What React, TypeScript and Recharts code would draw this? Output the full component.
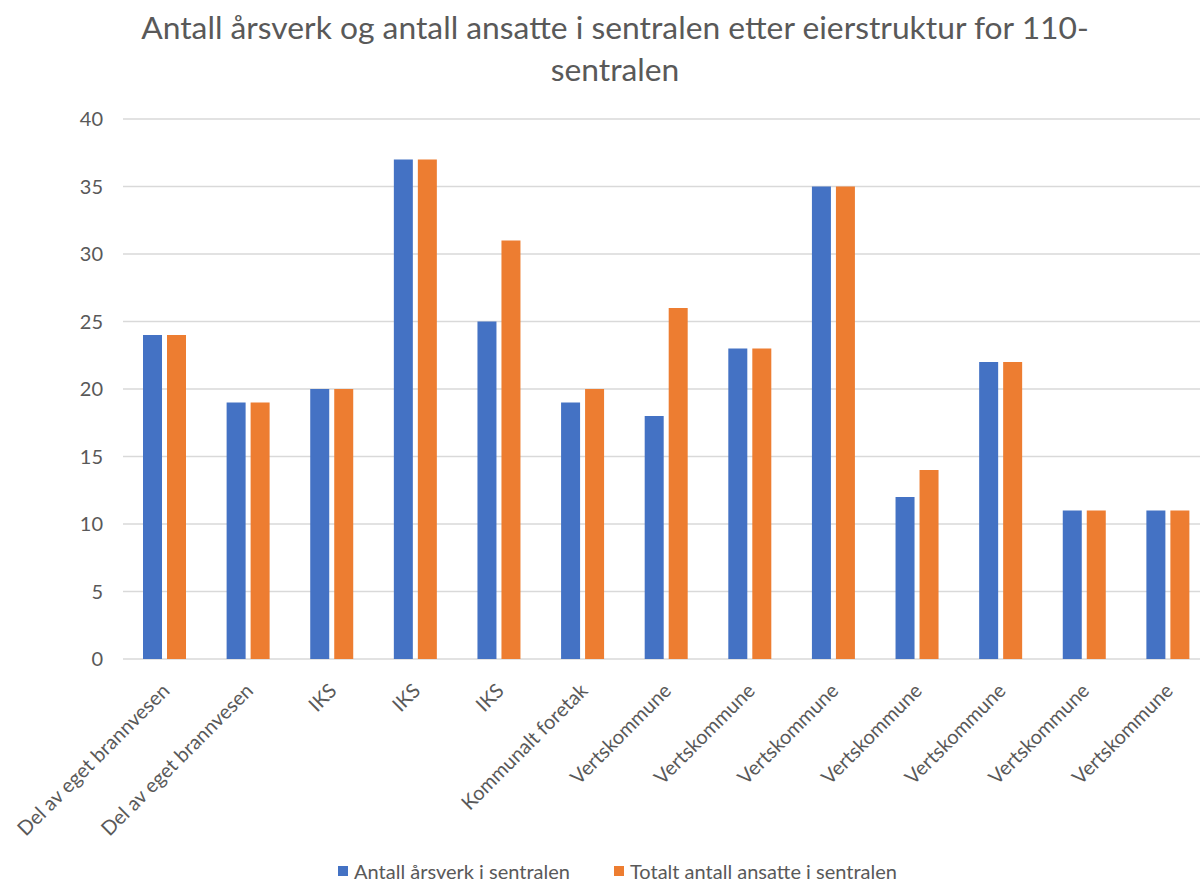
import { BarChart, Bar, XAxis, YAxis, CartesianGrid, Legend } from "recharts";

// Eierstruktur per sentral
const categories = [
    "Del av eget brannvesen",
    "Del av eget brannvesen",
    "IKS",
    "IKS",
    "IKS",
    "Kommunalt foretak",
    "Vertskommune",
    "Vertskommune",
    "Vertskommune",
    "Vertskommune",
    "Vertskommune",
    "Vertskommune",
    "Vertskommune",
];

const arsverk = [24, 19, 20, 37, 25, 19, 18, 23, 35, 12, 22, 11, 11];
const ansatte = [24, 19, 20, 37, 31, 20, 26, 23, 35, 14, 22, 11, 11];

const yTicks = [0, 5, 10, 15, 20, 25, 30, 35, 40];

const seriesNames = ["Antall årsverk i sentralen", "Totalt antall ansatte i sentralen"];

const data = categories.map((name, i) => ({
    id: i,
    name,
    arsverk: arsverk[i],
    ansatte: ansatte[i],
}));

const FONT = "Lato, 'Open Sans', sans-serif";
const TEXT = "#595959";

function RotatedTick(props: any) {
    const { x, y, payload } = props;
    return (
        <g transform={`translate(${x + 6},${y + 33})`}>
            <text
                x={0}
                y={0}
                textAnchor="end"
                transform="rotate(-45)"
                fill={TEXT}
                fontSize={20}
                fontFamily={FONT}
            >
                {categories[payload.index] ?? payload.value}
            </text>
        </g>
    );
}

function LegendContent() {
    const colors = ["#4472C4", "#ED7D31"];
    return (
        <div
            style={{
                display: "flex",
                justifyContent: "center",
                height: 26,
                lineHeight: "26px",
                fontFamily: FONT,
                fontSize: 20,
                color: TEXT,
                paddingRight: 38,
            }}
        >
            {seriesNames.map((n, i) => (
                <div key={n} style={{ display: "flex", alignItems: "center", marginRight: i === 0 ? 44 : 0 }}>
                    <span style={{ width: 10, height: 10, background: colors[i], marginRight: 6, display: "inline-block" }} />
                    {n}
                </div>
            ))}
        </div>
    );
}

export default function App() {
    return (
        <div
            style={{
                position: "absolute",
                left: 0,
                top: 0,
                width: 1200,
                height: 884,
                overflow: "hidden",
                background: "#fff",
            }}
        >
            {/* title */}
            <div
                style={{
                    position: "absolute",
                    left: 0,
                    top: 6,
                    width: 1230,
                    textAlign: "center",
                    fontFamily: FONT,
                    fontSize: 31.8,
                    lineHeight: "42px",
                    color: TEXT,
                }}
            >
                <div>Antall årsverk og antall ansatte i sentralen etter eierstruktur for 110-</div>
                <div>sentralen</div>
            </div>

            <BarChart
                width={1230}
                height={884}
                data={data}
                margin={{ top: 119, right: 20, bottom: 0, left: 63 }}
                barSize={19}
                barGap={5}
            >
                <CartesianGrid vertical={false} stroke="#d9d9d9" strokeWidth={1.5} />
                <XAxis
                    dataKey="id"
                    type="category"
                    axisLine={false}
                    tickLine={false}
                    tickSize={0}
                    tickMargin={0}
                    height={199}
                    interval={0}
                    tick={<RotatedTick />}
                />
                <YAxis
                    domain={[0, 40]}
                    ticks={yTicks}
                    width={60}
                    axisLine={false}
                    tickLine={false}
                    tickSize={0}
                    tickMargin={20}
                    tick={{ fill: TEXT, fontSize: 20, fontFamily: FONT }}
                />
                <Legend verticalAlign="bottom" content={<LegendContent />} />
                <Bar dataKey="arsverk" name={seriesNames[0]} fill="#4472C4" isAnimationActive={false} />
                <Bar dataKey="ansatte" name={seriesNames[1]} fill="#ED7D31" isAnimationActive={false} />
            </BarChart>
        </div>
    );
}
